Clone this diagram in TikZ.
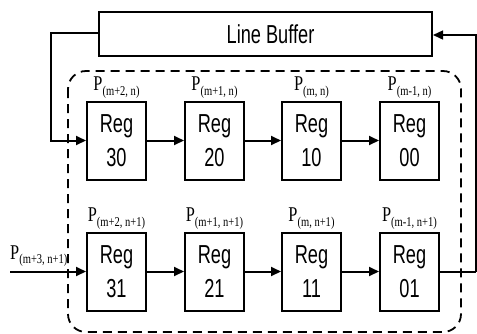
\documentclass[tikz,border=0pt]{standalone}
\usepackage{fontspec}
\usepackage{graphicx}
\setmainfont{Liberation Serif}
\setsansfont{Liberation Sans}
\usetikzlibrary{arrows.meta}
% narrow text, as in the figure
\newcommand{\nar}[1]{\scalebox{0.7}[1]{#1}}
\newcommand{\preg}[1]{\scalebox{0.78}[1]{\fontsize{21}{21}\selectfont P\raisebox{-4.5pt}{\fontsize{13.5}{13.5}\selectfont #1}}}
\newcommand{\regtxt}[1]{\nar{Reg}\\\nar{#1}}
\tikzset{
  regbox/.style={draw, line width=2pt, minimum width=59pt, minimum height=78pt,
    inner sep=0pt, align=center, font=\sffamily\fontsize{26}{34}\selectfont},
  wire/.style={line width=2pt},
  arr/.style={wire, -{Triangle[length=10pt,width=9pt]}},
  plabel/.style={anchor=south, inner sep=0pt, yshift=2pt},
  group/.style={draw, line width=1.8pt, dash pattern=on 9pt off 6pt, rounded corners=18pt}
}
\begin{document}
\begin{tikzpicture}[x=1pt,y=-1pt]
\useasboundingbox (0,0) rectangle (477,333);

% dashed register block
\draw[group] (68,71) rectangle (461,332);

% line buffer
\node[draw, line width=2pt, minimum width=333pt, minimum height=44pt, inner sep=0pt,
  font=\sffamily\fontsize{26}{26}\selectfont]
  (lb) at (265.5,34) {\hspace{10pt}\nar{Line Buffer}};

% register rows
\foreach \x/\c in {116.5/3, 214.5/2, 311.5/1, 409.5/0}{
  \node[regbox] (r\c0) at (\x,140.5) {\regtxt{\c0}};
  \node[regbox] (r\c1) at (\x,271.5) {\regtxt{\c1}};
}

% pixel labels
\node[plabel] (p30) at (r30.north) {\preg{(m+2, n)}};
\node[plabel] (p20) at (r20.north) {\preg{(m+1, n)}};
\node[plabel] (p10) at (r10.north) {\preg{(m, n)}};
\node[plabel] (p00) at (r00.north) {\preg{(m-1, n)}};
\node[plabel] (p31) at (r31.north) {\preg{(m+2, n+1)}};
\node[plabel] (p21) at (r21.north) {\preg{(m+1, n+1)}};
\node[plabel] (p11) at (r11.north) {\preg{(m, n+1)}};
\node[plabel] (p01) at (r01.north) {\preg{(m-1, n+1)}};

% shifts along each row
\draw[arr] (r30) -- (r20);
\draw[arr] (r20) -- (r10);
\draw[arr] (r10) -- (r00);
\draw[arr] (r31) -- (r21);
\draw[arr] (r21) -- (r11);
\draw[arr] (r11) -- (r01);

% new pixel input
\coordinate (in) at (10,271.5);
\node[anchor=south west, inner sep=0pt] (pin) at (10,267) {\preg{(m+3, n+1)}};
\draw[arr] (in) -- (r31);

% line buffer feedback
\coordinate (lbl) at (lb.west |- 0,33);
\draw[arr] (lbl) -- (51,33) |- (r30.west);

% row 1 output into the line buffer
\coordinate (ro) at (476,271.5);
\draw[wire] (r01.east) -- (ro);
\draw[line width=1.4pt, -{Triangle[length=10pt,width=9pt]}] (ro) -- (476,35) -- (lb.east |- 0,35);
\end{tikzpicture}
\end{document}
